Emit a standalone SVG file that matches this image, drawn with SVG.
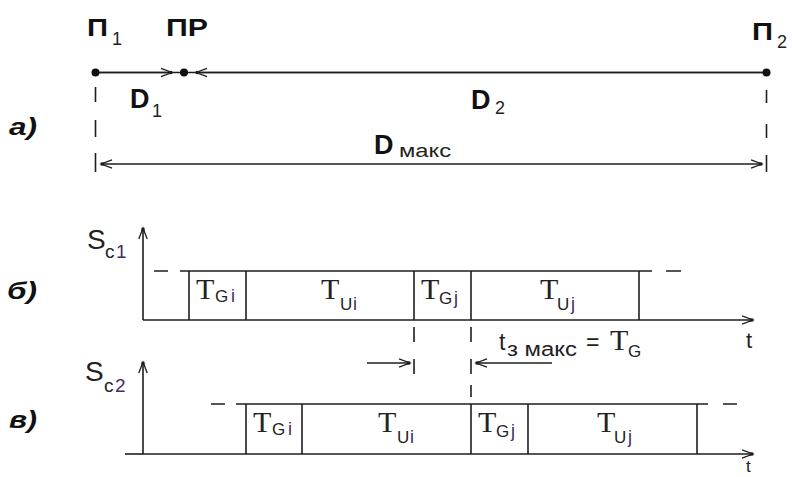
<svg xmlns="http://www.w3.org/2000/svg" width="792" height="477" viewBox="0 0 792 477">
<style>
.ln{stroke:#1e1e1e;stroke-width:1.6;fill:none}
.ax{stroke:#1e1e1e;stroke-width:1.6;fill:none;marker-end:url(#ah)}
.bd{font-family:"Liberation Sans",Arial,sans-serif;font-weight:bold;fill:#111}
.rg{font-family:"Liberation Sans",Arial,sans-serif;fill:#222}
.sf{font-family:"Liberation Serif","Times New Roman",serif;fill:#222}
.lb{font-family:"Liberation Sans",Arial,sans-serif;font-weight:bold;font-style:italic;font-size:24px;fill:#111}
.pu{fill:#4a2a62}
</style>
<defs>
<marker id="ah" markerWidth="14" markerHeight="12" refX="12" refY="6" orient="auto-start-reverse" markerUnits="userSpaceOnUse" overflow="visible">
<path d="M1,1.8 L12,6 L1,10.2" fill="none" stroke="#1e1e1e" stroke-width="1.3"/>
<rect x="9" y="4.4" width="3.2" height="3.2" fill="#1e1e1e"/>
</marker>
</defs>

<g id="connectors">
<line class="ln" x1="95" y1="72.5" x2="767" y2="72.5"/>
<line class="ax" x1="95" y1="72.5" x2="172" y2="72.5"/>
<line class="ax" x1="767" y1="72.5" x2="196" y2="72.5"/>
<path class="ln" d="M95.5,87V102M95.5,120V137M95.5,153V172"/>
<path class="ln" d="M766.5,90V103M766.5,124V138M766.5,155V172"/>
<line class="ln" x1="101" y1="164" x2="762" y2="164" marker-start="url(#ah)" marker-end="url(#ah)"/>

<line class="ax" x1="143" y1="320" x2="143" y2="228"/>
<line class="ax" x1="143" y1="320" x2="753" y2="320"/>
<path class="ln" d="M154,271H168M180,271H652M666,271H681"/>
<path class="ln" d="M189,271V320M246,271V320M414,271V320M471,271V320M639,271V320"/>

<path class="ln" d="M414,327V342M414,359V374"/>
<path class="ln" d="M471,327V342M471,359V374M471,385V397"/>
<line class="ax" x1="367" y1="363" x2="410" y2="363"/>
<line class="ax" x1="552" y1="363" x2="476" y2="363"/>

<line class="ax" x1="143" y1="454" x2="143" y2="362"/>
<line class="ln" x1="125" y1="454" x2="143" y2="454"/>
<line class="ax" x1="143" y1="454" x2="753" y2="454"/>
<path class="ln" d="M211,404H225M236,404H708M723,404H737"/>
<path class="ln" d="M246,404V454M302,404V454M471,404V454M528,404V454M697,404V454"/>
</g>

<g id="P1">
<circle cx="95.5" cy="72.5" r="4" fill="#111"/>
<text class="bd" x="87" y="36" font-size="24" textLength="21" lengthAdjust="spacingAndGlyphs">П</text>
<text class="rg" x="112" y="45" font-size="18">1</text>
</g>
<g id="PR">
<circle cx="184" cy="72.5" r="4" fill="#111"/>
<text class="bd" x="166" y="36" font-size="24" textLength="42" lengthAdjust="spacingAndGlyphs">ПР</text>
</g>
<g id="P2">
<circle cx="766.5" cy="72.5" r="4" fill="#111"/>
<text class="bd" x="752" y="40" font-size="24" textLength="21" lengthAdjust="spacingAndGlyphs">П</text>
<text class="rg" x="777" y="48" font-size="18">2</text>
</g>
<g id="D1">
<text class="bd" x="130" y="108" font-size="27">D</text>
<text class="rg" x="152" y="117" font-size="18">1</text>
</g>
<g id="D2">
<text class="bd" x="471" y="109" font-size="27">D</text>
<text class="rg" x="495" y="114" font-size="18">2</text>
</g>
<g id="Dmax">
<text class="bd" x="374" y="154" font-size="27">D</text>
<text class="rg" x="399" y="157" font-size="18" textLength="52" lengthAdjust="spacingAndGlyphs">макс</text>
</g>

<g id="labels">
<text class="lb" x="9" y="135" textLength="28" lengthAdjust="spacingAndGlyphs">а)</text>
<text class="lb" x="7" y="299" textLength="30" lengthAdjust="spacingAndGlyphs">б)</text>
<text class="lb" x="9" y="428" textLength="28" lengthAdjust="spacingAndGlyphs">в)</text>
</g>

<g id="Sc1">
<text class="rg" x="87" y="249" font-size="28">S</text>
<text class="rg" x="105" y="258" font-size="19">c</text>
<text class="rg pu" x="116" y="258" font-size="19">1</text>
</g>
<g id="Sc2">
<text class="rg" x="85" y="381" font-size="28">S</text>
<text class="rg" x="104" y="392" font-size="19">c</text>
<text class="rg pu" x="115" y="392" font-size="19">2</text>
</g>

<g id="b-TGi">
<text class="sf" x="196" y="299" font-size="30">T</text>
<text class="rg" x="215" y="302" font-size="17">G</text>
<text class="rg pu" x="231" y="302" font-size="18">i</text>
</g>
<g id="b-TUi">
<text class="sf" x="321" y="299" font-size="30">T</text>
<text class="rg" x="340" y="310" font-size="17">U</text>
<text class="rg pu" x="353" y="310" font-size="18">i</text>
</g>
<g id="b-TGj">
<text class="sf" x="421" y="299" font-size="30">T</text>
<text class="rg" x="439" y="304" font-size="17">G</text>
<text class="rg pu" x="454" y="304" font-size="18">j</text>
</g>
<g id="b-TUj">
<text class="sf" x="540" y="299" font-size="30">T</text>
<text class="rg" x="557" y="310" font-size="17">U</text>
<text class="rg pu" x="571" y="310" font-size="18">j</text>
</g>
<g id="b-t">
<text class="rg" x="746" y="348" font-size="22">t</text>
</g>

<g id="tzmax">
<text class="rg" x="499" y="350" font-size="23">t</text>
<text class="rg" x="507" y="356" font-size="20" textLength="70" lengthAdjust="spacingAndGlyphs">з макс</text>
<text class="rg" x="586" y="350" font-size="23">=</text>
<text class="sf" x="610" y="350" font-size="30">T</text>
<text class="rg" x="628" y="357" font-size="17">G</text>
</g>

<g id="c-TGi">
<text class="sf" x="253" y="432" font-size="30">T</text>
<text class="rg" x="272" y="435" font-size="17">G</text>
<text class="rg pu" x="288" y="435" font-size="18">i</text>
</g>
<g id="c-TUi">
<text class="sf" x="378" y="432" font-size="30">T</text>
<text class="rg" x="397" y="443" font-size="17">U</text>
<text class="rg pu" x="410" y="443" font-size="18">i</text>
</g>
<g id="c-TGj">
<text class="sf" x="478" y="432" font-size="30">T</text>
<text class="rg" x="496" y="437" font-size="17">G</text>
<text class="rg pu" x="511" y="437" font-size="18">j</text>
</g>
<g id="c-TUj">
<text class="sf" x="597" y="432" font-size="30">T</text>
<text class="rg" x="614" y="443" font-size="17">U</text>
<text class="rg pu" x="628" y="443" font-size="18">j</text>
</g>
<g id="c-t">
<text class="rg" x="746" y="472" font-size="17">t</text>
</g>
</svg>
